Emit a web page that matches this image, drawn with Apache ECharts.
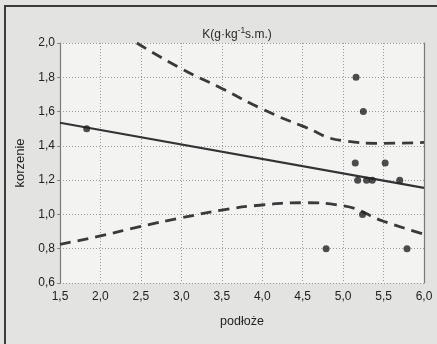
<!DOCTYPE html>
<html>
<head>
<meta charset="utf-8">
<script src="https://cdn.jsdelivr.net/npm/echarts@6/dist/echarts.min.js"></script>
<style>
  html, body { margin: 0; padding: 0; background: #e3e3e1; }
  #chart { width: 437px; height: 344px; }
</style>
</head>
<body>
<div id="chart"></div>
<script>
// Measured samples: K in substrate (podłoże) vs K in roots (korzenie)
const podloze  = [1.83, 5.16, 5.25, 5.15, 5.52, 5.18, 5.29, 5.36, 5.70, 5.24, 4.79, 5.79];
const korzenie = [1.50, 1.80, 1.60, 1.30, 1.30, 1.20, 1.20, 1.20, 1.20, 1.00, 0.80, 0.80];

// Regression line end points
const fitX = [1.5, 6.0];
const fitY = [1.535, 1.155];

// Confidence band, upper and lower
const upperX = [2.45, 3.0, 3.5, 4.0, 4.5, 5.0, 5.5, 6.0];
const upperY = [2.00, 1.85, 1.735, 1.615, 1.515, 1.43, 1.415, 1.42];
const lowerX = [1.5, 2.0, 2.5, 3.0, 3.5, 4.0, 4.5, 5.0, 5.5, 6.0];
const lowerY = [0.825, 0.875, 0.93, 0.98, 1.025, 1.055, 1.068, 1.05, 0.96, 0.885];

// Axis ranges
const xMin = 1.5, xMax = 6.0, xStep = 0.5;
const yMin = 0.6, yMax = 2.0, yStep = 0.2;

const zip = (a, b) => a.map((v, i) => [v, b[i]]);
const comma = v => v.toFixed(1).replace('.', ',');
const FONT = '"Liberation Sans", Arial, sans-serif';

const chart = echarts.init(document.getElementById('chart'), null, { renderer: 'canvas' });

chart.setOption({
  backgroundColor: '#e3e3e1',
  animation: false,
  title: {
    text: '{t|K(g·kg}{s|-1}{t|s.m.)}',
    left: 232, top: 21, textAlign: 'center',
    textStyle: {
      fontWeight: 'normal',
      rich: {
        t: { fontFamily: FONT, fontSize: 12, fontWeight: 'normal', color: '#2a2a2a', verticalAlign: 'bottom' },
        s: { fontFamily: FONT, fontSize: 8.5, fontWeight: 'normal', color: '#2a2a2a', verticalAlign: 'top', padding: [0, 0, 6, 0] }
      }
    }
  },
  graphic: [
    { type: 'rect', shape: { x: 5, y: 6, width: 500, height: 400 },
      style: { fill: 'none', stroke: '#3c3c3c', lineWidth: 2 }, z: 100 }
  ],
  grid: {
    left: 60, right: 13, top: 43, bottom: 61,
    show: true, backgroundColor: '#f3f3f2', borderWidth: 0
  },
  xAxis: {
    type: 'value', min: xMin, max: xMax, interval: xStep,
    name: 'podłoże', nameLocation: 'middle', nameGap: 32,
    nameTextStyle: { fontFamily: FONT, fontSize: 12.5, color: '#222' },
    axisLine: { show: false },
    axisTick: { show: false },
    axisLabel: { fontFamily: FONT, fontSize: 12, color: '#222', margin: 8, formatter: comma },
    splitLine: { show: true, lineStyle: { color: '#9a9a9a', type: [1, 2], width: 1 } }
  },
  yAxis: [
    {
      type: 'value', min: yMin, max: yMax, interval: yStep,
      name: 'korzenie', nameLocation: 'middle', nameGap: 32,
      nameTextStyle: { fontFamily: FONT, fontSize: 13, color: '#222' },
      axisLine: { show: true, lineStyle: { color: '#7a7a7a', width: 1.2 } },
      axisTick: { show: true, inside: false, length: 3, lineStyle: { color: '#888' } },
      axisLabel: { fontFamily: FONT, fontSize: 12, color: '#222', margin: 5, formatter: comma },
      splitLine: { show: true, lineStyle: { color: '#9a9a9a', type: [1, 2], width: 1 } }
    },
    {
      type: 'value', min: yMin, max: yMax, interval: yStep, position: 'right',
      axisLine: { show: true, lineStyle: { color: '#7a7a7a', width: 1.2 } },
      axisTick: { show: false }, axisLabel: { show: false }, splitLine: { show: false }
    }
  ],
  series: [
    {
      type: 'line', data: zip(upperX, upperY), smooth: 0.5, symbol: 'none',
      lineStyle: { color: '#3a3a3a', width: 2.8, type: [11, 7] }
    },
    {
      type: 'line', data: zip(lowerX, lowerY), smooth: 0.5, symbol: 'none',
      lineStyle: { color: '#3a3a3a', width: 2.8, type: [11, 7] }
    },
    {
      type: 'line', data: zip(fitX, fitY), symbol: 'none',
      lineStyle: { color: '#333', width: 2.2 }
    },
    {
      type: 'scatter', data: zip(podloze, korzenie), symbol: 'circle', symbolSize: 7,
      itemStyle: { color: '#222' }, z: 5
    }
  ]
});
</script>
</body>
</html>
